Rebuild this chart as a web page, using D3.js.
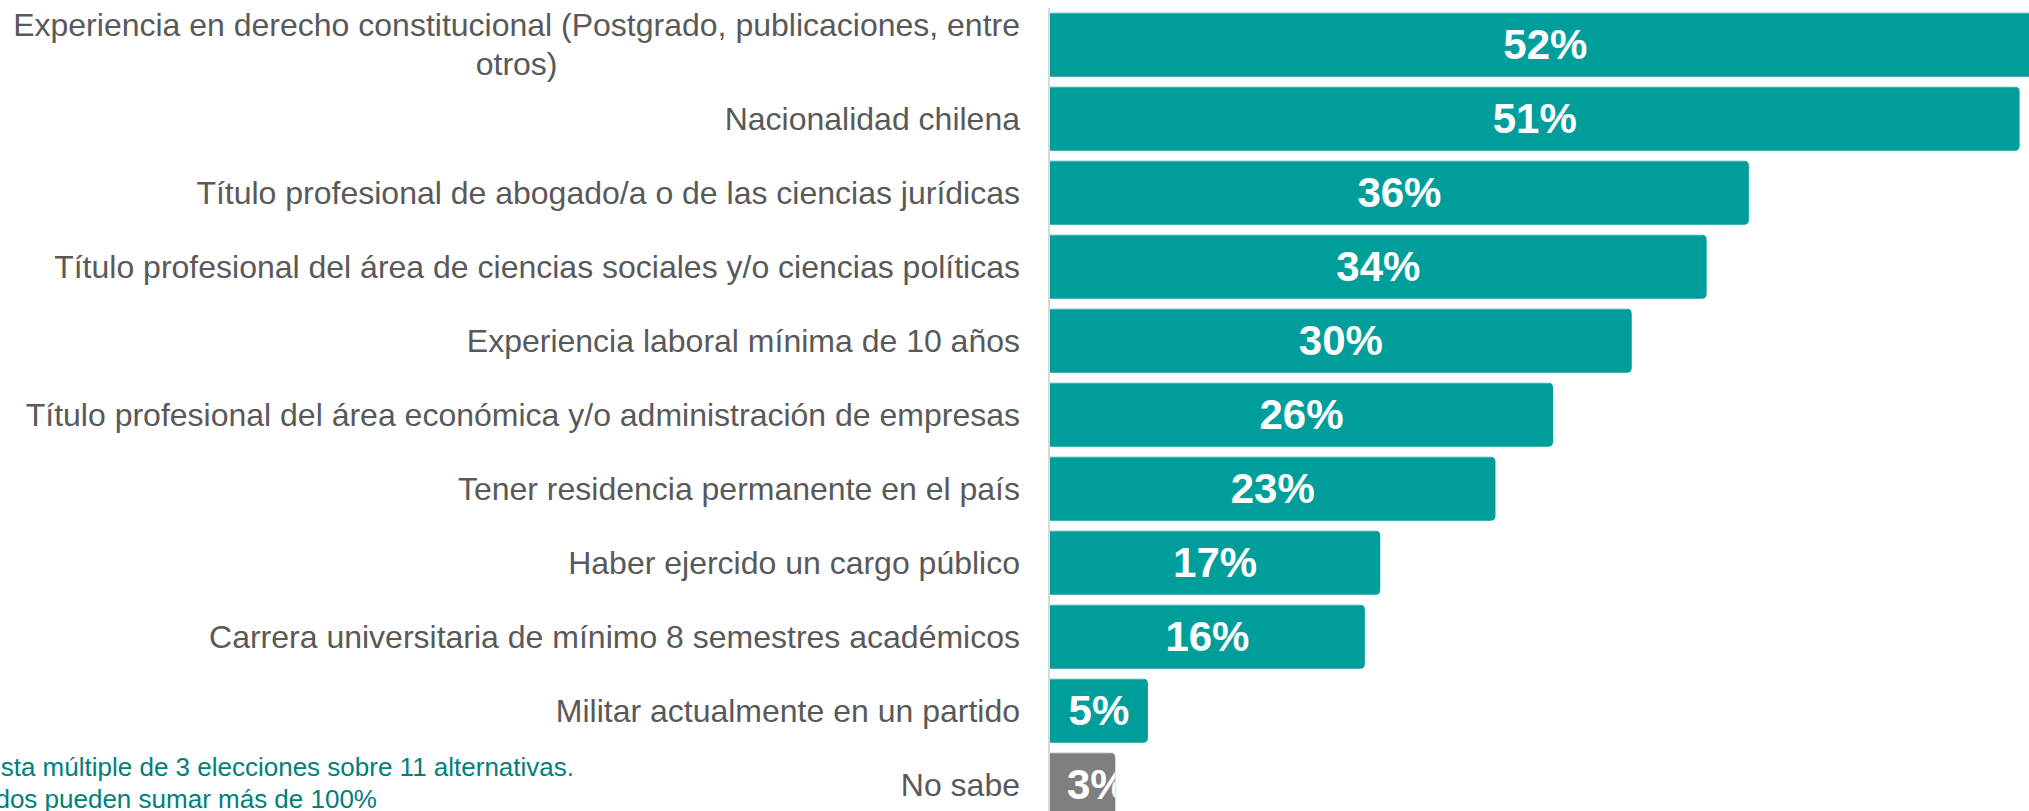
<!DOCTYPE html>
<html>
<head>
<meta charset="utf-8">
<script src="https://cdn.jsdelivr.net/npm/d3@7"></script>
<style>
  html, body { margin: 0; padding: 0; background: #fff; overflow: hidden; }
  svg { display: block; }
</style>
</head>
<body>
<div id="chart"></div>
<script>
// categories, top to bottom
var categories = [
    "Experiencia en derecho constitucional (Postgrado, publicaciones, entre otros)",
    "Nacionalidad chilena",
    "Título profesional de abogado/a o de las ciencias jurídicas",
    "Título profesional del área de ciencias sociales y/o ciencias políticas",
    "Experiencia laboral mínima de 10 años",
    "Título profesional del área económica y/o administración de empresas",
    "Tener residencia permanente en el país",
    "Haber ejercido un cargo público",
    "Carrera universitaria de mínimo 8 semestres académicos",
    "Militar actualmente en un partido",
    "No sabe"
];

// percentages (labels are rounded)
var values = [51.6, 50.5, 36.4, 34.2, 30.3, 26.2, 23.2, 17.2, 16.4, 5.1, 3.4];

// first label wraps on two lines
var firstLabelLines = [
    "Experiencia en derecho constitucional (Postgrado, publicaciones, entre",
    "otros)"
];

var footnote = [
    "Respuesta múltiple de 3 elecciones sobre 11 alternativas.",
    "Resultados pueden sumar más de 100%"
];

var width = 2029;
var height = 811;
var x0 = 1050;
var teal = "#009e9b";
var grey = "#7f7f7f";

var svg = d3.select('#chart')
    .append('svg')
    .attr('width', width)
    .attr('height', height);

var x = d3.scaleLinear()
    .domain([0, 1])
    .range([x0, x0 + 19.2]);

var y = d3.scaleBand()
    .domain(categories)
    .range([7.7, 7.7 + 74 * categories.length])
    .paddingInner(0.135)
    .paddingOuter(0.0675);

// bar shape: square on the left, rounded on the right
function barPath(d) {
    var r = 5;
    var left = x(0), right = x(d.value);
    var top = y(d.cat), bottom = top + y.bandwidth();
    return "M" + left + "," + top +
        "H" + (right - r) +
        "Q" + right + "," + top + " " + right + "," + (top + r) +
        "V" + (bottom - r) +
        "Q" + right + "," + bottom + " " + (right - r) + "," + bottom +
        "H" + left + "Z";
}

var data = categories.map(function(c, i) {
    return { cat: c, value: values[i], idx: i };
});

var defs = svg.append('defs');
defs.selectAll('clipPath')
    .data(data)
    .enter()
    .append('clipPath')
    .attr('id', function(d) { return 'clip' + d.idx; })
    .append('path')
    .attr('d', barPath);

var bars = svg.selectAll('g.bar')
    .data(data)
    .enter()
    .append('g')
    .attr('class', 'bar');

bars.append('path')
    .attr('d', barPath)
    .attr('fill', function(d) { return d.cat == "No sabe" ? grey : teal; });

// thin light edge on top of each bar
bars.append('line')
    .attr('x1', x(0))
    .attr('x2', function(d) { return x(d.value) - 4; })
    .attr('y1', function(d) { return y(d.cat) + 0.5; })
    .attr('y2', function(d) { return y(d.cat) + 0.5; })
    .attr('stroke', '#ffffff')
    .attr('stroke-opacity', 0.35)
    .attr('stroke-width', 1);

var valueLabels = bars.append('text')
    .attr('clip-path', function(d) { return 'url(#clip' + d.idx + ')'; })
    .attr('y', function(d) { return y(d.cat) + y.bandwidth() / 2; })
    .attr('dy', '0.35em')
    .attr('text-anchor', 'middle')
    .attr('font-family', 'Liberation Sans, Arial, sans-serif')
    .attr('font-weight', 'bold')
    .attr('font-size', 42)
    .attr('fill', '#ffffff')
    .text(function(d) { return Math.round(d.value) + '%'; });

// centre in the bar, but never closer than 17px to the axis
valueLabels.attr('x', function(d) {
    var w = this.getComputedTextLength();
    var mid = (x(0) + x(d.value)) / 2;
    return Math.max(mid, x(0) + 17 + w / 2);
});

// axis line
svg.append('line')
    .attr('x1', x(0) - 1)
    .attr('x2', x(0) - 1)
    .attr('y1', 8)
    .attr('y2', height)
    .attr('stroke', '#d9d9d9')
    .attr('stroke-width', 2);

// category labels
var labelRight = 1020;
var labels = svg.append('g')
    .attr('font-family', 'Liberation Sans, Arial, sans-serif')
    .attr('font-size', 32)
    .attr('fill', '#595959');

data.forEach(function(d) {
    var cy = y(d.cat) + y.bandwidth() / 2;
    if (d.idx == 0) {
        var t1 = labels.append('text')
            .attr('x', labelRight)
            .attr('y', cy - 20)
            .attr('dy', '0.35em')
            .attr('text-anchor', 'end')
            .text(firstLabelLines[0]);
        var w = t1.node().getComputedTextLength();
        labels.append('text')
            .attr('x', labelRight - w / 2)
            .attr('y', cy + 19)
            .attr('dy', '0.35em')
            .attr('text-anchor', 'middle')
            .text(firstLabelLines[1]);
    } else {
        labels.append('text')
            .attr('x', labelRight)
            .attr('y', cy)
            .attr('dy', '0.35em')
            .attr('text-anchor', 'end')
            .text(d.cat);
    }
});

// footnote (cut at the left edge)
var note = svg.append('g')
    .attr('font-family', 'Liberation Sans, Arial, sans-serif')
    .attr('font-size', 26)
    .attr('fill', '#00807b')
    .attr('text-anchor', 'end');

note.append('text').attr('x', 574).attr('y', 776).text(footnote[0]);
note.append('text').attr('x', 377).attr('y', 808).text(footnote[1]);
</script>
</body>
</html>
